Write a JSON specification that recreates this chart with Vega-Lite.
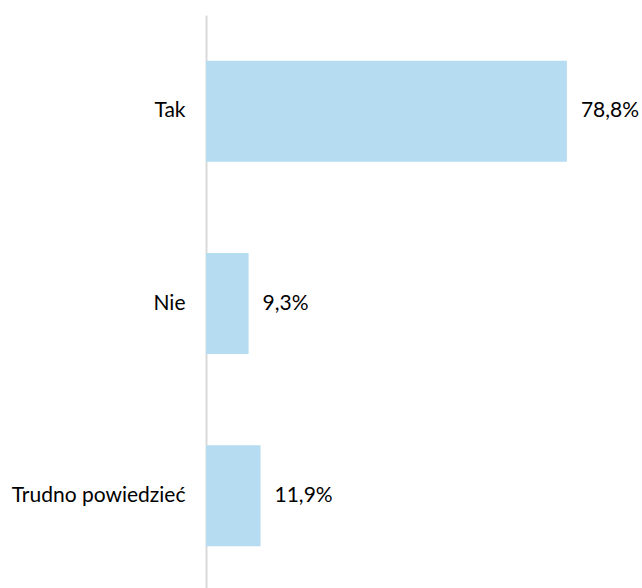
{
  "$schema": "https://vega.github.io/schema/vega-lite/v6.json",
  "width": 436,
  "height": 577,
  "autosize": {"type": "none"},
  "padding": {"left": 206, "top": 15, "right": 0, "bottom": 0},
  "background": "white",
  "data": {"values": [
    {"answer": "Tak", "value": 78.8, "label": "78,8%"},
    {"answer": "Nie", "value": 9.3, "label": "9,3%"},
    {"answer": "Trudno powiedzieć", "value": 11.9, "label": "11,9%"}
  ]},
  "encoding": {
    "y": {"field": "answer", "type": "nominal", "sort": null,
      "scale": {"paddingInner": 0.475, "paddingOuter": 0.2375},
      "axis": {"title": null, "ticks": false, "grid": false, "domainColor": "#d9d9d9", "domainWidth": 2,
        "labelFont": "Lato", "labelFontSize": 21, "labelColor": "#000000", "labelPadding": 21}},
    "x": {"field": "value", "type": "quantitative", "scale": {"domain": [0, 95.2]}, "axis": null}
  },
  "layer": [
    {"mark": {"type": "bar", "color": "#b5dcf0"}},
    {"mark": {"type": "text", "align": "left", "baseline": "middle", "dx": 14, "font": "Lato", "fontSize": 21, "color": "#000000"},
      "encoding": {"text": {"field": "label"}}}
  ],
  "config": {"view": {"stroke": null}}
}
